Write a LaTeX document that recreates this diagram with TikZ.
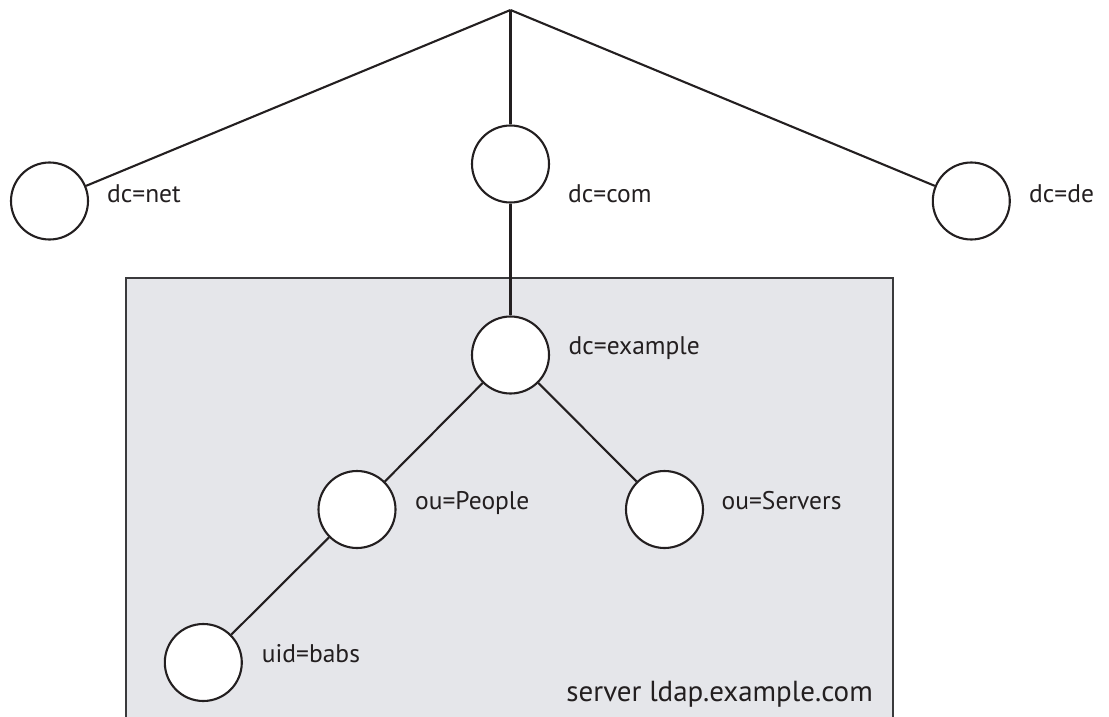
\documentclass[tikz,border=0pt]{standalone}
\usepackage{fontspec}
\setmainfont{PT Sans}
\definecolor{ink}{HTML}{231F20}
\definecolor{serverfill}{HTML}{E5E6EA}
\definecolor{serveredge}{HTML}{3A3A3C}
\tikzset{
  entry/.style={circle, draw=ink, line width=2.1pt, fill=white, minimum size=77pt, inner sep=0pt},
  lbl/.style={anchor=base west, inner sep=0pt, text=ink, font=\fontsize{25.5}{28}\selectfont},
  link/.style={draw=ink, line width=2.1pt},
  serverbox/.style={fill=serverfill, draw=serveredge, line width=2pt}
}
\begin{document}
\begin{tikzpicture}[x=1pt, y=-1pt]
  \clip (0,0) rectangle (1109,717);
  % LDAP server subtree
  \draw[serverbox] (126,278) rectangle (893,740);
  \node[lbl, anchor=base east, font=\fontsize{29}{32}\selectfont] (srv) at (873,701) {server ldap.example.com};

  % directory root
  \coordinate (root) at (510.5,10);

  % entries
  \node[entry] (net) at (49.5,201) {};
  \node[entry] (com) at (510.5,164) {};
  \node[entry] (de) at (971.3,201) {};
  \node[entry] (example) at (510.5,355) {};
  \node[entry] (people) at (357,509.5) {};
  \node[entry] (servers) at (664.5,509.5) {};
  \node[entry] (babs) at (203.3,662.5) {};

  % tree edges
  \draw[link] (root) -- (net);
  \draw[link] (root) -- (com);
  \draw[link] (root) -- (de);
  \draw[link] (com) -- (example);
  \draw[link] (example) -- (people);
  \draw[link] (example) -- (servers);
  \draw[link] (people) -- (babs);

  % entry labels
  \node[lbl] (lnet) at (107,202) {dc=net};
  \node[lbl] (lcom) at (568,202) {dc=com};
  \node[lbl] (lde) at (1029,202) {dc=de};
  \node[lbl] (lexample) at (568.5,354) {dc=example};
  \node[lbl] (lpeople) at (415,509.5) {ou=People};
  \node[lbl] (lservers) at (721.5,509.5) {ou=Servers};
  \node[lbl] (lbabs) at (261.7,662.3) {uid=babs};
\end{tikzpicture}
\end{document}
